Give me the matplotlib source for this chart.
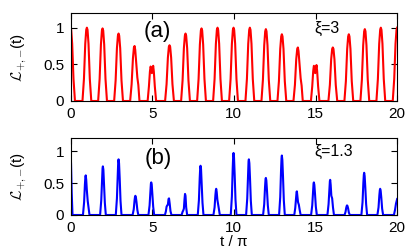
import numpy as np
import matplotlib
matplotlib.use('Agg')
import matplotlib.pyplot as plt

plt.rcParams['font.family'] = ['Liberation Sans', 'DejaVu Sans']
plt.rcParams['mathtext.fontset'] = 'cm'

# (a) xi = 3, one peak per line
t_a = [0.00, 0.04, 0.10, 0.18, 0.27,
       0.73, 0.82, 0.90, 0.96, 1.00, 1.04, 1.10, 1.18, 1.27,
       1.69, 1.78, 1.86, 1.92, 1.96, 2.00, 2.06, 2.14, 2.23,
       2.67, 2.76, 2.84, 2.90, 2.94, 2.98, 3.04, 3.12, 3.21,
       3.65, 3.74, 3.82, 3.88, 3.92, 3.96, 4.02, 4.09, 4.15, 4.22,
       4.72, 4.80, 4.86, 4.90, 4.94, 4.98, 5.02, 5.06, 5.10, 5.16, 5.24,
       5.79, 5.88, 5.96, 6.02, 6.06, 6.10, 6.16, 6.24, 6.33,
       6.77, 6.86, 6.94, 7.00, 7.04, 7.08, 7.14, 7.22, 7.31,
       7.75, 7.84, 7.92, 7.98, 8.02, 8.06, 8.12, 8.20, 8.29,
       8.73, 8.82, 8.90, 8.96, 9.00, 9.04, 9.10, 9.18, 9.27,
       9.71, 9.80, 9.88, 9.94, 9.98, 10.02, 10.08, 10.16, 10.25,
       10.71, 10.80, 10.88, 10.94, 10.98, 11.02, 11.08, 11.16, 11.25,
       11.69, 11.78, 11.86, 11.92, 11.96, 12.00, 12.06, 12.14, 12.23,
       12.67, 12.76, 12.84, 12.90, 12.94, 12.98, 13.04, 13.12, 13.21,
       13.65, 13.74, 13.82, 13.88, 13.92, 13.96, 14.02, 14.09, 14.15, 14.22,
       14.72, 14.80, 14.86, 14.90, 14.94, 14.98, 15.02, 15.06, 15.10, 15.16, 15.24,
       15.79, 15.88, 15.96, 16.02, 16.06, 16.10, 16.16, 16.24, 16.33,
       16.77, 16.86, 16.94, 17.00, 17.04, 17.08, 17.14, 17.22, 17.31,
       17.75, 17.84, 17.92, 17.98, 18.02, 18.06, 18.12, 18.20, 18.29,
       18.73, 18.82, 18.90, 18.96, 19.00, 19.04, 19.10, 19.18, 19.27,
       19.73, 19.82, 19.90, 19.96, 20.00]
c_a = [1.00, 0.97, 0.78, 0.30, 0.00,
       0.00, 0.30, 0.78, 0.97, 1.00, 0.97, 0.78, 0.30, 0.00,
       0.00, 0.30, 0.77, 0.96, 0.99, 0.96, 0.77, 0.30, 0.00,
       0.00, 0.28, 0.72, 0.89, 0.92, 0.89, 0.72, 0.28, 0.00,
       0.00, 0.23, 0.58, 0.73, 0.75, 0.70, 0.52, 0.32, 0.22, 0.00,
       0.00, 0.20, 0.40, 0.47, 0.45, 0.38, 0.44, 0.48, 0.40, 0.20, 0.00,
       0.00, 0.23, 0.59, 0.74, 0.76, 0.74, 0.59, 0.23, 0.00,
       0.00, 0.28, 0.72, 0.89, 0.92, 0.89, 0.72, 0.28, 0.00,
       0.00, 0.30, 0.77, 0.96, 0.99, 0.96, 0.77, 0.30, 0.00,
       0.00, 0.30, 0.78, 0.97, 1.00, 0.97, 0.78, 0.30, 0.00,
       0.00, 0.30, 0.78, 0.97, 1.00, 0.97, 0.78, 0.30, 0.00,
       0.00, 0.30, 0.78, 0.97, 1.00, 0.97, 0.78, 0.30, 0.00,
       0.00, 0.29, 0.76, 0.95, 0.98, 0.95, 0.76, 0.29, 0.00,
       0.00, 0.27, 0.71, 0.88, 0.91, 0.88, 0.71, 0.27, 0.00,
       0.00, 0.22, 0.57, 0.71, 0.73, 0.68, 0.50, 0.31, 0.21, 0.00,
       0.00, 0.20, 0.41, 0.48, 0.46, 0.38, 0.44, 0.49, 0.41, 0.20, 0.00,
       0.00, 0.22, 0.57, 0.71, 0.73, 0.71, 0.57, 0.22, 0.00,
       0.00, 0.27, 0.71, 0.88, 0.91, 0.88, 0.71, 0.27, 0.00,
       0.00, 0.29, 0.76, 0.95, 0.98, 0.95, 0.76, 0.29, 0.00,
       0.00, 0.30, 0.78, 0.97, 1.00, 0.97, 0.78, 0.30, 0.00,
       0.00, 0.30, 0.78, 0.97, 1.00]

# (b) xi = 1.3
t_b = [0.00, 0.03, 0.07, 0.12,
       0.76, 0.83, 0.88, 0.91, 0.93, 0.96, 1.00, 1.05, 1.10, 1.16,
       1.81, 1.88, 1.93, 1.96, 1.98, 2.01, 2.05, 2.10, 2.16,
       2.77, 2.84, 2.89, 2.92, 2.94, 2.97, 3.01, 3.06, 3.12,
       3.80, 3.87, 3.92, 3.95, 3.97, 4.00, 4.04, 4.09, 4.15,
       4.77, 4.84, 4.89, 4.92, 4.94, 4.97, 5.01, 5.06, 5.12,
       5.78, 5.84, 5.88, 5.92, 5.96, 6.00, 6.03, 6.07, 6.12, 6.18,
       6.80, 6.86, 6.90, 6.94, 6.98, 7.01, 7.04, 7.08, 7.14,
       7.79, 7.86, 7.91, 7.94, 7.96, 7.99, 8.03, 8.08, 8.14,
       8.75, 8.82, 8.87, 8.90, 8.92, 8.95, 8.99, 9.03, 9.08, 9.14,
       9.81, 9.88, 9.93, 9.96, 9.98, 10.01, 10.05, 10.10, 10.16,
       10.75, 10.82, 10.87, 10.90, 10.92, 10.95, 10.99, 11.04, 11.10,
       11.79, 11.86, 11.91, 11.94, 11.96, 11.99, 12.03, 12.08, 12.14,
       12.77, 12.84, 12.89, 12.92, 12.94, 12.97, 13.01, 13.06, 13.12,
       13.70, 13.76, 13.81, 13.84, 13.86, 13.89, 13.93, 13.98, 14.03, 14.09,
       14.73, 14.80, 14.85, 14.88, 14.90, 14.93, 14.97, 15.02, 15.08,
       15.73, 15.80, 15.85, 15.88, 15.90, 15.93, 15.97, 16.02, 16.07, 16.13,
       16.78, 16.84, 16.88, 16.91, 16.93, 16.96, 17.00, 17.04, 17.10,
       17.81, 17.88, 17.93, 17.96, 17.98, 18.01, 18.05, 18.10, 18.16,
       18.79, 18.86, 18.91, 18.94, 18.96, 18.99, 19.03, 19.08, 19.14,
       19.80, 19.87, 19.93, 20.00]
c_b = [1.00, 0.80, 0.35, 0.00,
       0.00, 0.20, 0.48, 0.60, 0.62, 0.55, 0.38, 0.22, 0.12, 0.00,
       0.00, 0.23, 0.57, 0.73, 0.76, 0.71, 0.49, 0.19, 0.00,
       0.00, 0.26, 0.65, 0.84, 0.87, 0.81, 0.57, 0.22, 0.00,
       0.00, 0.09, 0.23, 0.29, 0.30, 0.28, 0.20, 0.08, 0.00,
       0.00, 0.15, 0.38, 0.49, 0.51, 0.48, 0.33, 0.13, 0.00,
       0.00, 0.06, 0.13, 0.15, 0.16, 0.25, 0.26, 0.18, 0.06, 0.00,
       0.00, 0.05, 0.07, 0.10, 0.25, 0.33, 0.30, 0.12, 0.00,
       0.00, 0.23, 0.58, 0.74, 0.77, 0.72, 0.50, 0.19, 0.00,
       0.00, 0.12, 0.31, 0.39, 0.41, 0.36, 0.24, 0.18, 0.10, 0.00,
       0.00, 0.29, 0.73, 0.93, 0.97, 0.90, 0.63, 0.24, 0.00,
       0.00, 0.26, 0.65, 0.84, 0.87, 0.81, 0.57, 0.22, 0.00,
       0.00, 0.17, 0.44, 0.56, 0.58, 0.54, 0.38, 0.15, 0.00,
       0.00, 0.28, 0.70, 0.89, 0.93, 0.86, 0.60, 0.23, 0.00,
       0.00, 0.11, 0.28, 0.36, 0.37, 0.30, 0.20, 0.16, 0.08, 0.00,
       0.00, 0.15, 0.38, 0.49, 0.51, 0.47, 0.33, 0.13, 0.00,
       0.00, 0.17, 0.41, 0.53, 0.55, 0.47, 0.30, 0.26, 0.12, 0.00,
       0.00, 0.05, 0.11, 0.14, 0.15, 0.14, 0.10, 0.04, 0.00,
       0.00, 0.20, 0.50, 0.63, 0.66, 0.61, 0.43, 0.17, 0.00,
       0.00, 0.12, 0.31, 0.39, 0.41, 0.38, 0.27, 0.10, 0.00,
       0.00, 0.08, 0.18, 0.25]

xticks = [0, 5, 10, 15, 20]
yticks = [0, 0.5, 1]
ytick_labels = ['0', '0.5', '1']

fig = plt.figure(figsize=(4.15, 2.5), dpi=100)
ax1 = fig.add_axes([0.170, 0.596, 0.787, 0.352])
ax2 = fig.add_axes([0.170, 0.140, 0.787, 0.307])

for ax, t, c, col in [(ax1, t_a, c_a, 'red'), (ax2, t_b, c_b, 'blue')]:
    ax.plot(t, c, color=col, lw=1.5)
    ax.set_xlim(0, 20)
    ax.set_ylim(0, 1.2)
    ax.set_xticks(xticks)
    ax.set_yticks(yticks)
    ax.set_yticklabels(ytick_labels)
    ax.tick_params(direction='in', top=True, right=True, length=4,
                   labelsize=11, pad=4.5)
    ax.set_ylabel(r'$\mathcal{L}_{+,{-}}$(t)', fontsize=11, labelpad=10)

ax1.text(5.3, 0.95, '(a)', fontsize=16, ha='center', va='center')
ax1.text(14.95, 0.99, 'ξ=3', fontsize=11.5, ha='left', va='center')
ax2.text(5.4, 0.89, '(b)', fontsize=16, ha='center', va='center')
ax2.text(14.95, 1.0, 'ξ=1.3', fontsize=11.5, ha='left', va='center')
ax2.set_xlabel('t / π', fontsize=11, labelpad=0)

fig.savefig('out.png', dpi=100)
